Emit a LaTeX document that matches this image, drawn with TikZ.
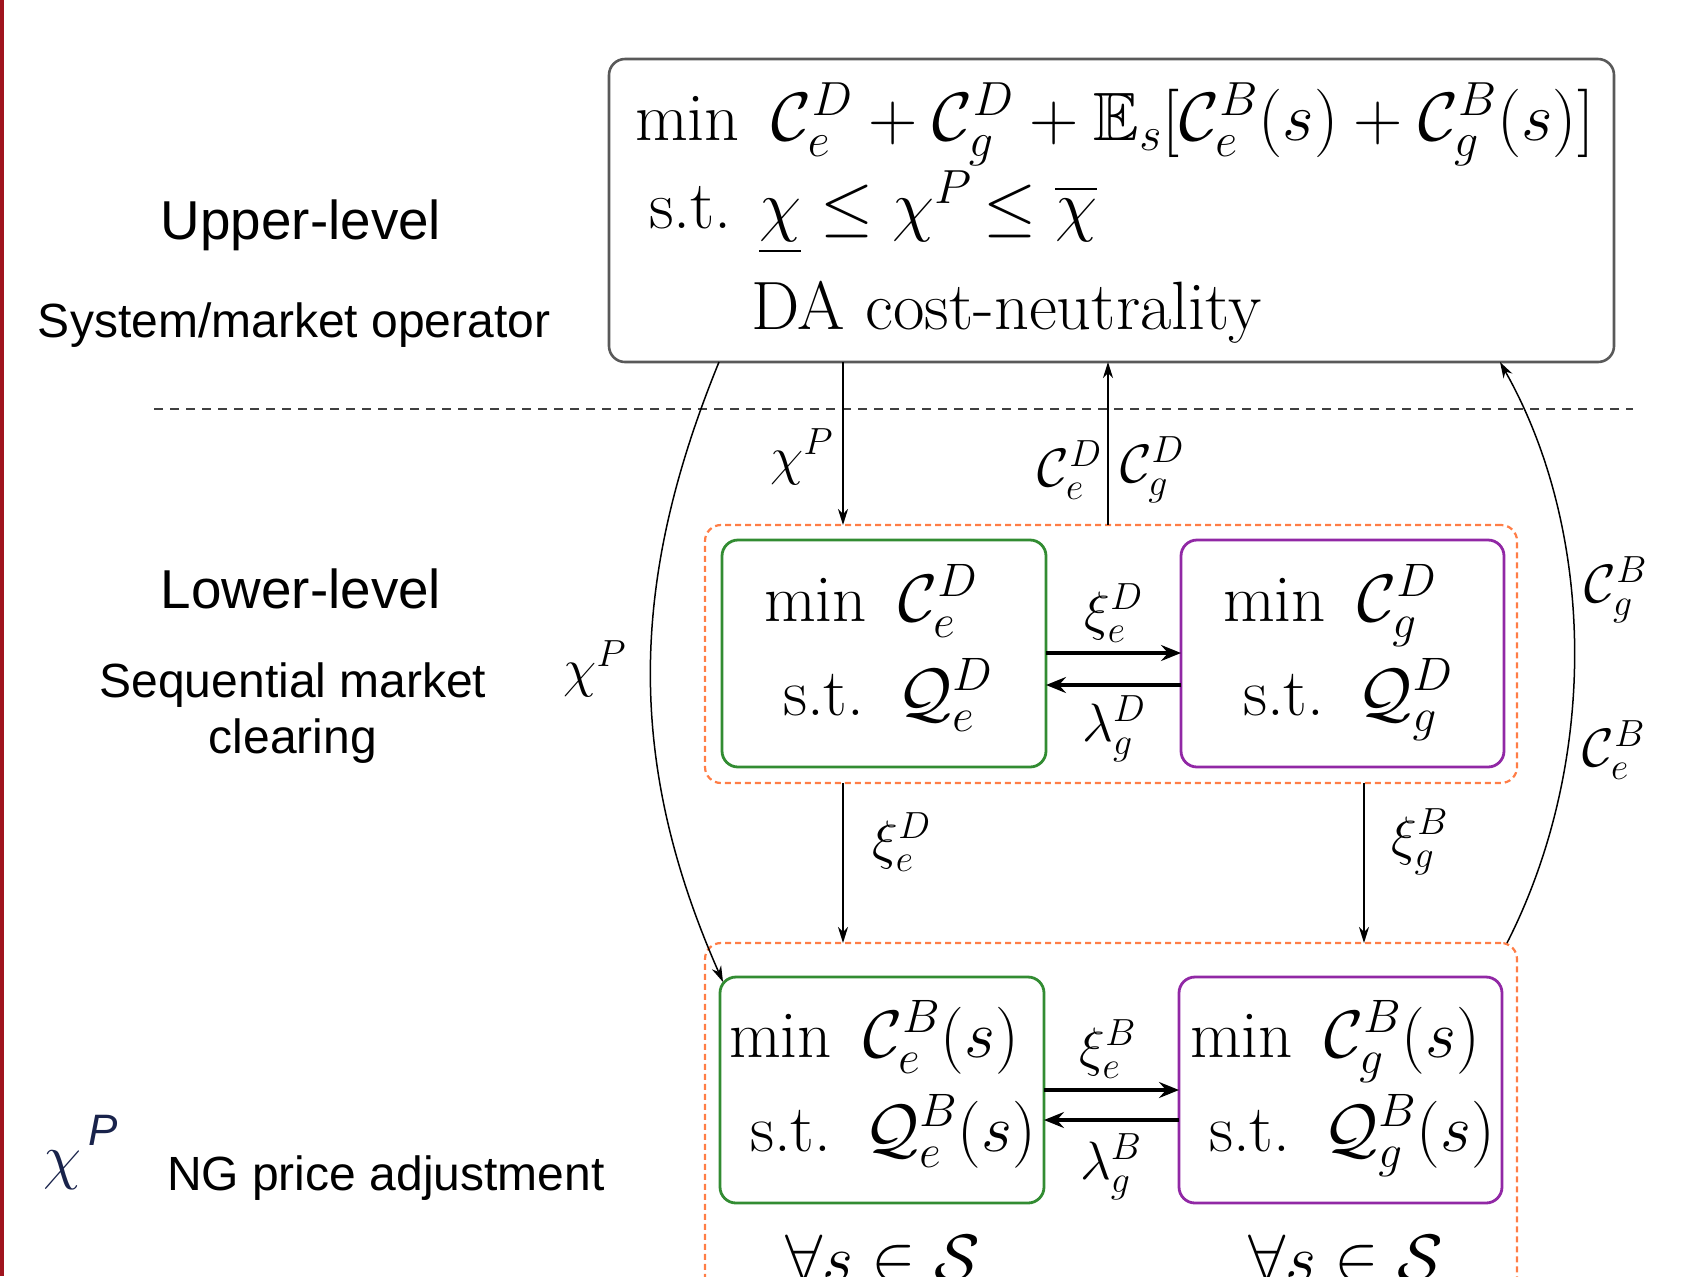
\RequirePackage{fix-cm}
\documentclass[tikz,border=0pt]{standalone}
\usepackage{amsmath,amssymb}
\usepackage{fontspec}
\usetikzlibrary{arrows.meta}
% scalable blackboard-bold shapes for large sizes
\DeclareFontFamily{U}{msb}{}
\DeclareFontShape{U}{msb}{m}{n}{<-6> msbm5 <6-8> msbm7 <8-> msbm10}{}
\newfontfamily\arial{Liberation Sans}
\definecolor{boxgreen}{RGB}{50,140,50}
\definecolor{boxpurple}{RGB}{145,40,165}
\definecolor{dashorange}{RGB}{255,125,70}
\definecolor{barred}{RGB}{160,20,30}
\definecolor{chinavy}{RGB}{25,35,75}
\newcommand{\fftop}{\fontsize{34.2}{40}\selectfont}
\newcommand{\ffbox}{\fontsize{33.5}{40}\selectfont}
\newcommand{\fflabel}{\fontsize{27}{32}\selectfont}
\newcommand{\ffhead}{\arial\fontsize{27.4}{33}\selectfont}
\newcommand{\ffnote}{\arial\fontsize{24}{29}\selectfont}
\begin{document}
\begin{tikzpicture}[x=0.5pt,y=-0.5pt,
  every node/.style={inner sep=0pt,outer sep=0pt},
  opbox/.style={draw=black!65,line width=1.3pt,rounded corners=8pt},
  grpbox/.style={draw=dashorange,line width=1.1pt,dash pattern=on 3pt off 2pt,rounded corners=8pt},
  gbox/.style={draw=boxgreen,line width=1.4pt,rounded corners=8pt},
  pbox/.style={draw=boxpurple,line width=1.4pt,rounded corners=8pt},
  flow/.style={line width=0.75pt,-{Stealth[length=8pt,width=5pt,inset=2.5pt]}},
  bigflow/.style={line width=2.3pt,-{Stealth[length=10pt,width=8pt,inset=3.5pt]}},
  sepline/.style={draw=black!75,line width=0.75pt,dash pattern=on 4.5pt off 3.5pt},
  toptxt/.style={anchor=base west,font=\fftop},
  boxtxt/.style={anchor=base west,font=\ffbox},
  lbl/.style={font=\fflabel},
  head/.style={anchor=base,font=\ffhead},
  note/.style={font=\ffnote}]
\useasboundingbox (0,0) rectangle (1687,1276);
\clip (0,0) rectangle (1687,1276);

% page edge bar
\fill[barred] (0,0) rectangle (4,1276);

% left-hand descriptions
\node[head] (hup) at (301,239) {Upper-level};
\node[note,anchor=base west] (nup) at (38,337) {System/market operator};
\node[head] (hlow) at (301,608) {Lower-level};
\node[note,anchor=base] (nlow1) at (293,697) {Sequential market};
\node[note,anchor=base] (nlow2) at (293,753) {clearing};
\node[anchor=base west,text=chinavy] (chi) at (43,1177)
  {\fontsize{31}{36}\selectfont$\chi$\kern3.5pt\raisebox{16pt}{\arial\itshape\fontsize{22}{26}\selectfont P}};
\node[note,anchor=base west] (nng) at (167,1190) {NG price adjustment};

% separator between the two levels
\draw[sepline] (154,409) -- (1633,409);

% upper-level problem
\node[opbox,minimum width=502.5pt,minimum height=151.5pt] (ub) at (1111.5,210.5) {};
\node[toptxt] (ut1) at (635,140) {$\min\ \mathcal{C}_e^D+\mathcal{C}_g^D+\mathbb{E}_s[\mathcal{C}_e^B(s)+\mathcal{C}_g^B(s)]$};
\node[toptxt] (ut2) at (649,228) {s.t.\hspace{0.4em}$\underline{\chi}\le\chi^{P\!}\le\overline{\chi}$};
\node[toptxt] (ut3) at (751,329) {DA cost-neutrality};

% day-ahead stage
\node[grpbox,minimum width=406pt,minimum height=129pt] (mo) at (1111,654) {};
\node[gbox,minimum width=162pt,minimum height=113.5pt] (mg) at (884,653.5) {};
\node[pbox,minimum width=161.5pt,minimum height=113.5pt] (mp) at (1342.5,653.5) {};
\node[boxtxt] (mg1) at (764,621) {$\min\ \mathcal{C}_e^D$};
\node[boxtxt] (mg2) at (783,715) {s.t.\enspace$\mathcal{Q}_e^D$};
\node[boxtxt] (mp1) at (1223,621) {$\min\ \mathcal{C}_g^D$};
\node[boxtxt] (mp2) at (1243,715) {s.t.\enspace$\mathcal{Q}_g^D$};

% balancing stage
\node[grpbox,minimum width=406pt,minimum height=228pt] (lo) at (1111,1171) {};
\node[gbox,minimum width=162pt,minimum height=113pt] (lg) at (882,1090) {};
\node[pbox,minimum width=161.5pt,minimum height=113pt] (lp) at (1340.5,1090) {};
\node[boxtxt] (lg1) at (729,1057) {$\min\ \mathcal{C}_e^B(s)$};
\node[boxtxt] (lg2) at (750,1151) {s.t.\enspace$\mathcal{Q}_e^B(s)$};
\node[boxtxt] (lp1) at (1190,1057) {$\min\ \mathcal{C}_g^B(s)$};
\node[boxtxt] (lp2) at (1209,1151) {s.t.\enspace$\mathcal{Q}_g^B(s)$};
\node[boxtxt] (fa1) at (785,1281) {$\forall s\in\mathcal{S}$};
\node[boxtxt] (fa2) at (1248,1281) {$\forall s\in\mathcal{S}$};

% connector positions
\coordinate (xa) at (843,0);
\coordinate (xb) at (1108,0);
\coordinate (xc) at (1364,0);
\coordinate (xl) at (719,0);
\coordinate (xr) at (1500,0);
\coordinate (ya) at (0,653);
\coordinate (yb) at (0,685);
\coordinate (yc) at (0,1090);
\coordinate (yd) at (0,1120);

% vertical information flows
\draw[flow] (ub.south -| xa) -- (mo.north -| xa);
\draw[flow] (mo.north -| xb) -- (ub.south -| xb);
\draw[flow] (mo.south -| xa) -- (lo.north -| xa);
\draw[flow] (mo.south -| xc) -- (lo.north -| xc);
\draw[flow] (ub.south -| xl) .. controls (630,580) and (625,760) .. ([shift={(3,5)}]lg.north west);
\draw[flow] ([xshift=-5pt]lo.north east) .. controls (1600,760) and (1595,530) .. (ub.south -| xr);

% exchanges between the electricity and gas markets
\draw[bigflow] (mg.east |- ya) -- (mp.west |- ya);
\draw[bigflow] (mp.west |- yb) -- (mg.east |- yb);
\draw[bigflow] (lg.east |- yc) -- (lp.west |- yc);
\draw[bigflow] (lp.west |- yd) -- (lg.east |- yd);

% flow labels
\node[lbl] (l1) at (802,457) {$\chi^P$};
\node[lbl,anchor=east] (l2) at (1102,470) {$\mathcal{C}_e^D$};
\node[lbl,anchor=west] (l3) at (1120,470) {$\mathcal{C}_g^D$};
\node[lbl] (l4) at (1114,613) {$\xi_e^D$};
\node[lbl] (l5) at (1114,729) {$\lambda_g^D$};
\node[lbl] (l6) at (902,842) {$\xi_e^D$};
\node[lbl] (l7) at (1420,842) {$\xi_g^B$};
\node[lbl] (l8) at (1108,1049) {$\xi_e^B$};
\node[lbl] (l9) at (1111,1167) {$\lambda_g^B$};
\node[lbl] (l10) at (595,669) {$\chi^P$};
\node[lbl] (l11) at (1616,590) {$\mathcal{C}_g^B$};
\node[lbl] (l12) at (1614,750) {$\mathcal{C}_e^B$};
\end{tikzpicture}
\end{document}
